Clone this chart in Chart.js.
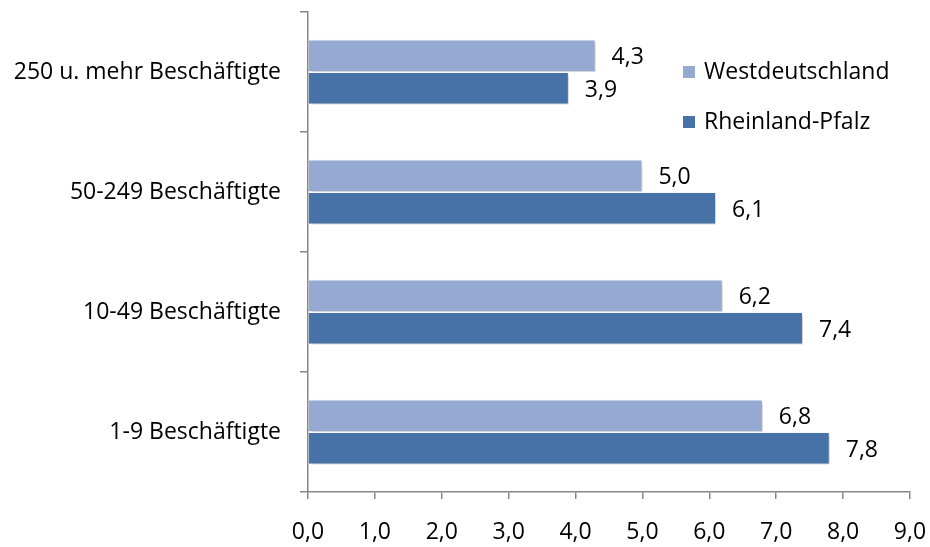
<!DOCTYPE html>
<html>
<head>
<meta charset="utf-8">
<script src="https://cdn.jsdelivr.net/npm/chart.js@4"></script>
<style>
  html, body { margin: 0; padding: 0; background: #ffffff; }
  #wrap { width: 930px; height: 547px; }
</style>
</head>
<body>
<div id="wrap"><canvas id="c" width="930" height="547"></canvas></div>
<script>
const categories = ["250 u. mehr Beschäftigte", "50-249 Beschäftigte", "10-49 Beschäftigte", "1-9 Beschäftigte"];
const westdeutschland = [4.3, 5.0, 6.2, 6.8];
const rheinlandPfalz = [3.9, 6.1, 7.4, 7.8];
const seriesNames = ["Westdeutschland", "Rheinland-Pfalz"];
const xTicks = [0, 1, 2, 3, 4, 5, 6, 7, 8, 9];

const FONT = "'Open Sans', sans-serif";
const FONT_SIZE = 23;
const COLORS = ["#95A9D2", "#4672A8"];
const AXIS = "#878787";

const fmt = v => v.toFixed(1).replace(".", ",");

// soft drop shadow behind the bars
const barShadow = {
  id: "barShadow",
  beforeDatasetsDraw(chart) {
    const ctx = chart.ctx;
    ctx.save();
    ctx.shadowColor = "rgba(0,0,0,0.22)";
    ctx.shadowBlur = 4;
    ctx.shadowOffsetX = 2;
    ctx.shadowOffsetY = 2;
  },
  afterDatasetsDraw(chart) {
    chart.ctx.restore();
  }
};

// value labels at the end of each bar
const valueLabels = {
  id: "valueLabels",
  afterDatasetsDraw(chart) {
    const ctx = chart.ctx;
    ctx.save();
    ctx.font = FONT_SIZE + "px " + FONT;
    ctx.fillStyle = "#000";
    ctx.textAlign = "left";
    ctx.textBaseline = "middle";
    chart.data.datasets.forEach((ds, i) => {
      const meta = chart.getDatasetMeta(i);
      meta.data.forEach((bar, j) => {
        ctx.fillText(fmt(ds.data[j]), bar.x + 16, bar.y + 2);
      });
    });
    ctx.restore();
  }
};

// legend placed inside the plot, to the right
const insideLegend = {
  id: "insideLegend",
  afterDraw(chart) {
    const ctx = chart.ctx;
    ctx.save();
    ctx.font = FONT_SIZE + "px " + FONT;
    ctx.textBaseline = "middle";
    ctx.textAlign = "left";
    const x0 = 683, ys = [72, 122];
    seriesNames.forEach((name, i) => {
      ctx.fillStyle = COLORS[i];
      ctx.fillRect(x0, ys[i] - 6, 12, 12);
      ctx.fillStyle = "#000";
      ctx.fillText(name, x0 + 21, ys[i]);
    });
    ctx.restore();
  }
};

new Chart(document.getElementById("c"), {
  type: "bar",
  data: {
    labels: categories,
    datasets: [
      { label: seriesNames[0], data: westdeutschland, backgroundColor: COLORS[0],
        borderColor: "#ffffff", borderWidth: 1, categoryPercentage: 0.54, barPercentage: 1.0 },
      { label: seriesNames[1], data: rheinlandPfalz, backgroundColor: COLORS[1],
        borderColor: "#ffffff", borderWidth: 1, categoryPercentage: 0.54, barPercentage: 1.0 }
    ]
  },
  options: {
    indexAxis: "y",
    responsive: false,
    animation: false,
    devicePixelRatio: 1,
    layout: { padding: { top: 12, right: 20, left: 0, bottom: 0 } },
    plugins: { legend: { display: false }, tooltip: { enabled: false } },
    scales: {
      x: {
        min: 0, max: 9,
        afterBuildTicks(scale) { scale.ticks = xTicks.map(v => ({ value: v })); },
        afterFit(scale) { scale.height = 55; scale.paddingLeft = 0; scale.paddingRight = 0; },
        border: { display: true, color: AXIS, width: 1.5 },
        grid: { display: true, drawOnChartArea: false, drawTicks: true, tickLength: 7, color: AXIS, lineWidth: 1.5 },
        ticks: { color: "#000", font: { family: FONT, size: FONT_SIZE }, padding: 20,
                 callback: v => fmt(v), maxRotation: 0 }
      },
      y: {
        afterFit(scale) { scale.width = 308; scale.paddingTop = 0; scale.paddingBottom = 0; },
        border: { display: true, color: AXIS, width: 1.5 },
        grid: { display: true, drawOnChartArea: false, drawTicks: true, tickLength: 8, color: AXIS, lineWidth: 1.5, offset: true },
        ticks: { color: "#000", font: { family: FONT, size: FONT_SIZE }, padding: 19 }
      }
    }
  },
  plugins: [barShadow, valueLabels, insideLegend]
});
</script>
</body>
</html>
